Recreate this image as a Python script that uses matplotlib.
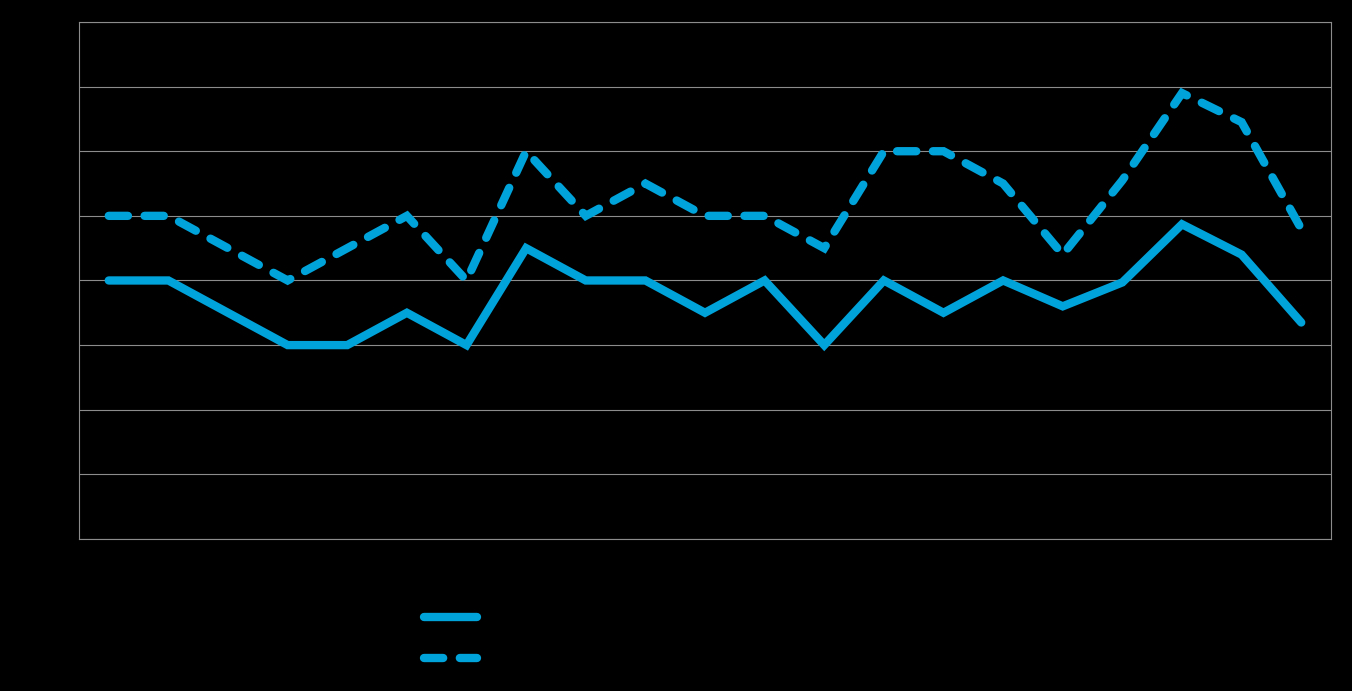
import matplotlib
matplotlib.use('Agg')
import matplotlib.pyplot as plt

categories = list(range(1, 22))
solid_vals = [4, 4, 3.5, 3, 3, 3.5, 3, 4.5, 4, 4, 3.5, 4, 3, 4, 3.5, 4, 3.6, 3.97, 4.87, 4.4, 3.35]
dashed_vals = [5, 5, 4.5, 4, 4.5, 5, 4, 6, 5, 5.5, 5, 5, 4.5, 6, 6, 5.5, 4.4, 5.55, 6.9, 6.45, 4.8]
series_labels = ['Series 1', 'Series 2']

blue = '#00A3DA'
grid = '#8c8c8c'

fig = plt.figure(figsize=(13.52, 6.91), dpi=100, facecolor='black')
ax = fig.add_axes([0.0584, 0.22, 0.9261, 0.7482])
ax.set_facecolor('black')

ax.plot(categories, solid_vals, color=blue, lw=6, solid_capstyle='round',
        solid_joinstyle='miter', label=series_labels[0])
ax.plot(categories, dashed_vals, color=blue, lw=6, dashes=(2.3, 2.0),
        dash_capstyle='round', dash_joinstyle='miter', label=series_labels[1])

ax.set_xlim(0.5, 21.5)
ax.set_ylim(0, 8)
ax.set_yticks(range(0, 9))
ax.set_xticks(categories)
ax.tick_params(length=0, labelcolor='black')
ax.grid(axis='y', color=grid, lw=0.8)
ax.set_axisbelow(True)
for s in ax.spines.values():
    s.set_color(grid)
    s.set_linewidth(0.8)

leg = fig.legend(loc='center left', bbox_to_anchor=(424 / 1352, 1 - 638.5 / 691),
                 frameon=False, borderpad=0, borderaxespad=0, handlelength=2.7,
                 fontsize=14, labelspacing=1.15, labelcolor='black')

fig.savefig('out.png', dpi=100, facecolor='black')
